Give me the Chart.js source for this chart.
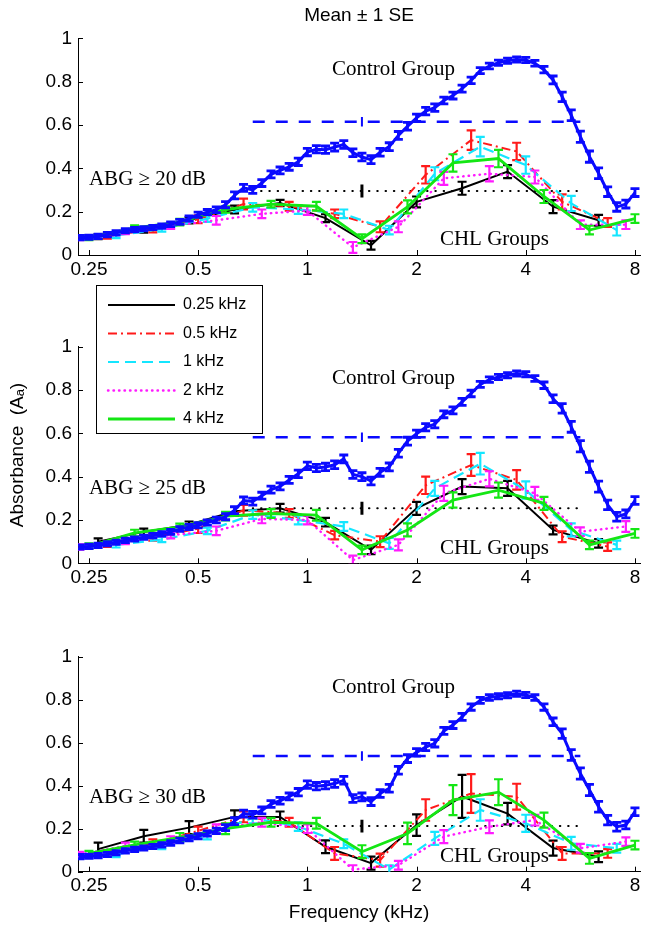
<!DOCTYPE html>
<html>
<head>
<meta charset="utf-8">
<title>Absorbance by ABG group</title>
<script src="https://cdn.jsdelivr.net/npm/chart.js@4.4.1/dist/chart.umd.min.js"></script>
<style>
  html, body { margin: 0; padding: 0; background: #fff; }
  #wrap { position: relative; width: 649px; height: 933px; }
  #wrap canvas { position: absolute; left: 0; }
</style>
</head>
<body>
<div id="wrap">
  <canvas id="p20" width="649" height="283" style="top:0px"></canvas>
  <canvas id="p25" width="649" height="315" style="top:283px"></canvas>
  <canvas id="p30" width="649" height="335" style="top:598px"></canvas>
</div>
<script>
// ---- data (kHz, absorbance) ----
const FREQ = [0.236, 0.250, 0.265, 0.281, 0.297, 0.315, 0.334, 0.354, 0.375, 0.397,
  0.420, 0.445, 0.472, 0.500, 0.530, 0.561, 0.595, 0.630, 0.667, 0.707,
  0.749, 0.794, 0.841, 0.891, 0.944, 1.000, 1.059, 1.122, 1.189, 1.260,
  1.335, 1.414, 1.498, 1.587, 1.682, 1.782, 1.888, 2.000, 2.119, 2.245,
  2.378, 2.520, 2.670, 2.828, 2.997, 3.175, 3.364, 3.564, 3.775, 4.000,
  4.238, 4.490, 4.757, 5.040, 5.339, 5.657, 5.993, 6.350, 6.727, 7.127,
  7.551, 8.000];
const TICK_X = [0.25, 0.5, 1, 2, 4, 8];
const TICK_Y = [0, 0.2, 0.4, 0.6, 0.8, 1];

const CTRL_20 = [0.080, 0.082, 0.086, 0.094, 0.102, 0.112, 0.117, 0.121, 0.127, 0.133,
  0.142, 0.153, 0.168, 0.186, 0.198, 0.209, 0.232, 0.275, 0.310, 0.300,
  0.332, 0.372, 0.390, 0.407, 0.430, 0.475, 0.488, 0.486, 0.498, 0.510,
  0.472, 0.452, 0.440, 0.474, 0.500, 0.552, 0.594, 0.633, 0.664, 0.680,
  0.713, 0.736, 0.768, 0.806, 0.851, 0.872, 0.887, 0.896, 0.902, 0.900,
  0.885, 0.855, 0.808, 0.730, 0.645, 0.546, 0.454, 0.377, 0.292, 0.222,
  0.235, 0.288];
const CTRL_25 = [0.075, 0.078, 0.083, 0.090, 0.097, 0.106, 0.112, 0.120, 0.128, 0.136,
  0.145, 0.158, 0.168, 0.176, 0.188, 0.200, 0.215, 0.245, 0.290, 0.285,
  0.312, 0.340, 0.355, 0.385, 0.413, 0.450, 0.440, 0.445, 0.455, 0.482,
  0.410, 0.400, 0.380, 0.420, 0.445, 0.508, 0.564, 0.598, 0.628, 0.642,
  0.688, 0.706, 0.745, 0.784, 0.826, 0.848, 0.860, 0.868, 0.876, 0.873,
  0.853, 0.822, 0.760, 0.715, 0.630, 0.540, 0.446, 0.354, 0.270, 0.215,
  0.228, 0.290];
const CTRL_30 = [0.070, 0.072, 0.075, 0.080, 0.088, 0.097, 0.104, 0.110, 0.117, 0.125,
  0.134, 0.145, 0.156, 0.165, 0.178, 0.190, 0.205, 0.235, 0.270, 0.265,
  0.285, 0.315, 0.330, 0.350, 0.370, 0.405, 0.398, 0.402, 0.410, 0.425,
  0.340, 0.348, 0.326, 0.364, 0.388, 0.472, 0.526, 0.555, 0.580, 0.597,
  0.655, 0.682, 0.720, 0.766, 0.797, 0.810, 0.816, 0.821, 0.828, 0.822,
  0.810, 0.766, 0.697, 0.642, 0.543, 0.457, 0.380, 0.302, 0.240, 0.209,
  0.217, 0.279];
const CTRL_SE = [0.010, 0.010, 0.010, 0.010, 0.010, 0.010, 0.010, 0.010, 0.010, 0.010,
  0.011, 0.011, 0.012, 0.012, 0.012, 0.013, 0.014, 0.016, 0.016, 0.016,
  0.016, 0.016, 0.016, 0.016, 0.017, 0.017, 0.017, 0.017, 0.018, 0.018,
  0.018, 0.018, 0.018, 0.018, 0.018, 0.018, 0.018, 0.017, 0.017, 0.017,
  0.016, 0.016, 0.016, 0.015, 0.014, 0.013, 0.012, 0.012, 0.012, 0.012,
  0.013, 0.015, 0.018, 0.022, 0.025, 0.026, 0.026, 0.025, 0.022, 0.020,
  0.018, 0.018];

// CHL groups: one value every 5th frequency, starting at GROUP_START
const GROUP_LABELS = ['0.25 kHz', '0.5 kHz', '1 kHz', '2 kHz', '4 kHz'];
const GROUP_START = [2, 3, 4, 0, 1];
const GROUP_STEP = 5;

const K_20 = [0.085, 0.115, 0.160, 0.210, 0.240, 0.170, 0.045, 0.245, 0.308, 0.385, 0.223, 0.160];
const R_20 = [0.088, 0.118, 0.165, 0.235, 0.225, 0.190, 0.130, 0.370, 0.530, 0.478, 0.245, 0.150];
const C_20 = [0.090, 0.120, 0.168, 0.220, 0.210, 0.190, 0.115, 0.375, 0.500, 0.415, 0.238, 0.115];
const M_20 = [0.080, 0.108, 0.135, 0.160, 0.190, 0.205, 0.035, 0.130, 0.354, 0.375, 0.360, 0.140, 0.140];
const G_20 = [0.080, 0.125, 0.152, 0.210, 0.235, 0.225, 0.075, 0.222, 0.425, 0.445, 0.270, 0.115, 0.168];
const K_20_SE = [0.012, 0.012, 0.014, 0.018, 0.014, 0.018, 0.020, 0.025, 0.030, 0.030, 0.030, 0.025];
const R_20_SE = [0.012, 0.014, 0.018, 0.025, 0.020, 0.020, 0.025, 0.040, 0.045, 0.040, 0.035, 0.020];
const C_20_SE = [0.012, 0.012, 0.015, 0.020, 0.020, 0.020, 0.020, 0.030, 0.045, 0.040, 0.035, 0.025];
const M_20_SE = [0.012, 0.012, 0.015, 0.020, 0.020, 0.020, 0.025, 0.025, 0.030, 0.035, 0.030, 0.020, 0.020];
const G_20_SE = [0.012, 0.012, 0.015, 0.015, 0.015, 0.020, 0.020, 0.030, 0.040, 0.040, 0.030, 0.020, 0.020];

const K_25 = [0.100, 0.145, 0.178, 0.240, 0.254, 0.190, 0.062, 0.254, 0.354, 0.346, 0.154, 0.092];
const R_25 = [0.088, 0.120, 0.160, 0.245, 0.230, 0.130, 0.100, 0.360, 0.454, 0.385, 0.123, 0.077];
const C_25 = [0.085, 0.110, 0.150, 0.225, 0.200, 0.170, 0.092, 0.346, 0.460, 0.338, 0.154, 0.085];
const M_25 = [0.075, 0.100, 0.130, 0.150, 0.205, 0.200, 0.015, 0.085, 0.323, 0.390, 0.323, 0.146, 0.170];
const G_25 = [0.080, 0.140, 0.168, 0.218, 0.230, 0.222, 0.062, 0.154, 0.292, 0.338, 0.277, 0.085, 0.138];
const K_25_SE = [0.015, 0.015, 0.015, 0.020, 0.020, 0.020, 0.020, 0.030, 0.035, 0.035, 0.020, 0.020];
const R_25_SE = [0.012, 0.015, 0.020, 0.025, 0.020, 0.020, 0.025, 0.040, 0.050, 0.045, 0.025, 0.020];
const C_25_SE = [0.012, 0.012, 0.015, 0.020, 0.020, 0.020, 0.025, 0.035, 0.050, 0.040, 0.030, 0.020];
const M_25_SE = [0.012, 0.012, 0.015, 0.020, 0.020, 0.020, 0.020, 0.025, 0.035, 0.035, 0.030, 0.020, 0.025];
const G_25_SE = [0.012, 0.015, 0.015, 0.020, 0.020, 0.025, 0.020, 0.030, 0.035, 0.035, 0.030, 0.020, 0.020];

const K_30 = [0.105, 0.165, 0.205, 0.255, 0.255, 0.116, 0.040, 0.217, 0.350, 0.270, 0.110, 0.070];
const R_30 = [0.085, 0.130, 0.190, 0.255, 0.230, 0.085, 0.054, 0.287, 0.364, 0.349, 0.085, 0.085];
const C_30 = [0.080, 0.120, 0.170, 0.250, 0.210, 0.130, 0.010, 0.155, 0.287, 0.225, 0.132, 0.109];
const M_30 = [0.080, 0.120, 0.150, 0.200, 0.230, 0.200, 0.010, 0.030, 0.163, 0.209, 0.240, 0.109, 0.140];
const G_30 = [0.085, 0.125, 0.160, 0.200, 0.230, 0.225, 0.093, 0.178, 0.333, 0.370, 0.240, 0.062, 0.124];
const K_30_SE = [0.030, 0.030, 0.030, 0.030, 0.025, 0.030, 0.030, 0.050, 0.100, 0.050, 0.035, 0.025];
const R_30_SE = [0.015, 0.020, 0.020, 0.025, 0.020, 0.030, 0.030, 0.050, 0.090, 0.060, 0.030, 0.020];
const C_30_SE = [0.012, 0.015, 0.020, 0.025, 0.020, 0.020, 0.020, 0.030, 0.050, 0.040, 0.030, 0.020];
const M_30_SE = [0.012, 0.015, 0.015, 0.020, 0.020, 0.020, 0.020, 0.020, 0.030, 0.030, 0.025, 0.020, 0.020];
const G_30_SE = [0.012, 0.015, 0.020, 0.025, 0.020, 0.025, 0.030, 0.050, 0.070, 0.060, 0.035, 0.025, 0.020];

// band means drawn as horizontal lines over 0.707-5.657 kHz, marker at 1.414 kHz
const REF_BAND = [0.707, 5.657];
const REF_MARK = 1.414;
const REF_CTRL = [0.615, 0.582, 0.538];
const REF_CHL = [0.295, 0.254, 0.212];
const PANEL_LABELS = ['ABG \u2265 20 dB', 'ABG \u2265 25 dB', 'ABG \u2265 30 dB'];

// ---- look ----
const SANS = "'Liberation Sans', Arial, sans-serif";
const SERIF = "'Liberation Serif', 'Times New Roman', serif";
const BLUE = '#0a0aff';
const X_MIN = 0.2332, X_MAX = 8.26;

const GROUP_STYLE = [
  { color: '#000000', width: 2, dash: [] },
  { color: '#ff1a1a', width: 2, dash: [9, 4, 2, 4] },
  { color: '#14e6ff', width: 2.2, dash: [11, 6] },
  { color: '#ff1aff', width: 2.4, dash: [0.5, 5], capStyle: 'round' },
  { color: '#14e614', width: 2.8, dash: [] }
];

// vertical error bars with caps, drawn right after each dataset
const errorBars = {
  id: 'errorBars',
  afterDatasetDraw(chart, args) {
    const ds = chart.data.datasets[args.index];
    if (!ds.errors) return;
    const { ctx, chartArea: a, scales: { y } } = chart;
    ctx.save();
    ctx.beginPath();
    ctx.rect(a.left, a.top, a.right - a.left, a.bottom - a.top);
    ctx.clip();
    ctx.strokeStyle = ds.borderColor;
    ctx.lineWidth = ds.errWidth || 2;
    ctx.setLineDash([]);
    ctx.lineCap = 'butt';
    ctx.beginPath();
    const c = ds.cap || 0;
    args.meta.data.forEach((pt, k) => {
      const v = ds.data[k].y, e = ds.errors[k];
      const hi = y.getPixelForValue(v + e), lo = y.getPixelForValue(v - e);
      ctx.moveTo(pt.x, hi); ctx.lineTo(pt.x, lo);
      if (c) {
        ctx.moveTo(pt.x - c, hi); ctx.lineTo(pt.x + c, hi);
        ctx.moveTo(pt.x - c, lo); ctx.lineTo(pt.x + c, lo);
      }
    });
    ctx.stroke();
    ctx.restore();
  }
};

// matlab style ticks pointing into the axes
const inTicks = {
  id: 'inTicks',
  afterDraw(chart) {
    const { ctx, chartArea: a, scales: { x, y } } = chart;
    ctx.save();
    ctx.strokeStyle = '#000';
    ctx.lineWidth = 1;
    ctx.beginPath();
    x.ticks.forEach(t => {
      const px = Math.round(x.getPixelForValue(t.value)) + 0.5;
      ctx.moveTo(px, a.bottom); ctx.lineTo(px, a.bottom - 5);
    });
    y.ticks.forEach(t => {
      const py = Math.round(y.getPixelForValue(t.value)) + 0.5;
      ctx.moveTo(a.left, py); ctx.lineTo(a.left + 5, py);
    });
    ctx.stroke();
    ctx.restore();
  }
};

// text placed in data coordinates
const notes = {
  id: 'notes',
  afterDraw(chart, args, opts) {
    const { ctx, scales: { x, y } } = chart;
    (opts.items || []).forEach(n => {
      ctx.save();
      ctx.font = '21px ' + SERIF;
      ctx.fillStyle = '#000';
      ctx.textAlign = 'left';
      ctx.textBaseline = 'middle';
      ctx.fillText(n.text, x.getPixelForValue(n.x), y.getPixelForValue(n.y));
      ctx.restore();
    });
  }
};

// boxed legend (only on the middle panel)
const boxLegend = {
  id: 'boxLegend',
  afterDraw(chart, args, o) {
    if (!o.show) return;
    const { ctx } = chart;
    const items = chart.data.datasets.filter(d => d.inLegend);
    ctx.save();
    ctx.fillStyle = '#fff';
    ctx.fillRect(o.left, o.top, o.width, o.height);
    ctx.strokeStyle = '#000';
    ctx.lineWidth = 1;
    ctx.strokeRect(o.left + 0.5, o.top + 0.5, o.width, o.height);
    items.forEach((d, k) => {
      const yy = o.top + o.first + k * o.step;
      ctx.strokeStyle = d.borderColor;
      ctx.lineWidth = d.borderWidth;
      ctx.lineCap = d.borderCapStyle || 'butt';
      ctx.setLineDash(d.borderDash || []);
      ctx.beginPath();
      ctx.moveTo(o.left + 12, yy);
      ctx.lineTo(o.left + 79, yy);
      ctx.stroke();
      ctx.setLineDash([]);
      ctx.fillStyle = '#000';
      ctx.font = '16px ' + SANS;
      ctx.textAlign = 'left';
      ctx.textBaseline = 'middle';
      ctx.fillText(d.label, o.left + 87, yy);
    });
    ctx.restore();
  }
};

function groupPoints(vals, start) {
  return vals.map((v, k) => ({ x: FREQ[start + k * GROUP_STEP], y: v }));
}

function makePanel(id, p) {
  const datasets = [];
  p.groups.forEach((g, gi) => {
    const st = GROUP_STYLE[gi];
    datasets.push({
      label: GROUP_LABELS[gi],
      data: groupPoints(g[0], GROUP_START[gi]),
      errors: g[1],
      borderColor: st.color,
      borderWidth: st.width,
      borderDash: st.dash,
      borderCapStyle: st.capStyle || 'butt',
      pointRadius: 0,
      cap: 4.5,
      errWidth: 2.2,
      inLegend: true,
      order: 6 - gi
    });
  });
  datasets.push({
    data: REF_BAND.map(f => ({ x: f, y: p.refCtrl })),
    borderColor: BLUE, borderWidth: 2.5, borderDash: [12, 11], pointRadius: 0, order: 8
  });
  datasets.push({
    data: REF_BAND.map(f => ({ x: f, y: p.refChl })),
    borderColor: '#000', borderWidth: 2, borderDash: [0.5, 7.8], borderCapStyle: 'round',
    pointRadius: 0, order: 8
  });
  datasets.push({
    data: [{ x: REF_MARK, y: p.refCtrl }], errors: [0.022],
    borderColor: BLUE, showLine: false, pointRadius: 0, errWidth: 2, order: 7
  });
  datasets.push({
    data: [{ x: REF_MARK, y: p.refChl }], errors: [0.03],
    borderColor: '#000', showLine: false, pointRadius: 0, errWidth: 3, order: 7
  });
  datasets.push({
    data: FREQ.map((f, i) => ({ x: f, y: p.ctrl[i] })),
    errors: CTRL_SE,
    borderColor: BLUE, borderWidth: 3, pointRadius: 0, cap: 4.5, errWidth: 2.8, order: 1
  });

  return new Chart(document.getElementById(id), {
    type: 'line',
    data: { datasets },
    plugins: [errorBars, inTicks, notes, boxLegend],
    options: {
      responsive: false,
      animation: false,
      events: [],
      layout: { padding: { top: p.padTop, right: 9, left: 0, bottom: 0 } },
      elements: { line: { tension: 0 } },
      plugins: {
        legend: { display: false },
        tooltip: { enabled: false },
        title: {
          display: !!p.title, text: p.title || '', fullSize: false, color: '#000',
          font: { family: SANS, size: 19, weight: 'normal' },
          padding: { top: 4, bottom: 11.5 }
        },
        notes: {
          items: [
            { text: 'Control Group', x: 1.169, y: 0.855 },
            { text: p.label, x: 0.25, y: 0.347 },
            { text: 'CHL Groups', x: 2.32, y: 0.07 }
          ]
        },
        boxLegend: p.legend || { show: false }
      },
      scales: {
        x: {
          type: 'logarithmic', min: X_MIN, max: X_MAX,
          afterBuildTicks: s => { s.ticks = TICK_X.map(v => ({ value: v })); },
          afterFit: s => { s.height = p.xH; },
          grid: { display: false, drawTicks: false },
          border: { display: true, color: '#000', width: 1 },
          ticks: {
            autoSkip: false, maxRotation: 0, padding: 3, color: '#000',
            font: { family: SANS, size: 19 },
            callback: v => String(v)
          },
          title: {
            display: !!p.xTitle, text: p.xTitle || '', color: '#000',
            font: { family: SANS, size: 19 }, padding: { top: 0, bottom: 9 }
          }
        },
        y: {
          min: 0, max: 1,
          afterBuildTicks: s => { s.ticks = TICK_Y.map(v => ({ value: v })); },
          afterFit: s => { s.width = 78; },
          grid: { display: false, drawTicks: false },
          border: { display: true, color: '#000', width: 1 },
          ticks: {
            padding: 6, color: '#000',
            font: { family: SANS, size: 19 },
            callback: v => String(+v.toFixed(1))
          },
          title: {
            display: !!p.yTitle, text: p.yTitle || '', color: '#000',
            font: { family: SANS, size: 19 }, padding: { top: 6, bottom: 0 }
          }
        }
      }
    }
  });
}

makePanel('p20', {
  ctrl: CTRL_20, label: PANEL_LABELS[0], refCtrl: REF_CTRL[0], refChl: REF_CHL[0],
  groups: [[K_20, K_20_SE], [R_20, R_20_SE], [C_20, C_20_SE], [M_20, M_20_SE], [G_20, G_20_SE]],
  padTop: 0, xH: 28, title: 'Mean \u00b1 1 SE'
});
makePanel('p25', {
  ctrl: CTRL_25, label: PANEL_LABELS[1], refCtrl: REF_CTRL[1], refChl: REF_CHL[1],
  groups: [[K_25, K_25_SE], [R_25, R_25_SE], [C_25, C_25_SE], [M_25, M_25_SE], [G_25, G_25_SE]],
  padTop: 63.7, xH: 34.7, yTitle: 'Absorbance  (A\u2090)',
  legend: { show: true, left: 96, top: 2, width: 166, height: 148, first: 20, step: 28.5 }
});
makePanel('p30', {
  ctrl: CTRL_30, label: PANEL_LABELS[2], refCtrl: REF_CTRL[2], refChl: REF_CHL[2],
  groups: [[K_30, K_30_SE], [R_30, R_30_SE], [C_30, C_30_SE], [M_30, M_30_SE], [G_30, G_30_SE]],
  padTop: 58.7, xH: 61.3, xTitle: 'Frequency (kHz)'
});
</script>
</body>
</html>
